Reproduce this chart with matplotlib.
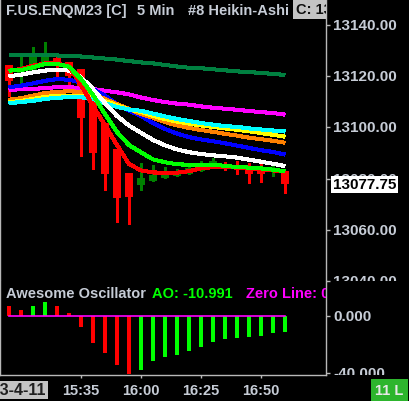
import numpy as np
import matplotlib
matplotlib.use("Agg")
import matplotlib.pyplot as plt

# Heikin-Ashi bars, 5 min, 15:05 .. 17:00
times = ["15:05", "15:10", "15:15", "15:20", "15:25", "15:30", "15:35", "15:40",
         "15:45", "15:50", "15:55", "16:00", "16:05", "16:10", "16:15", "16:20",
         "16:25", "16:30", "16:35", "16:40", "16:45", "16:50", "16:55", "17:00"]
ha_open = [13124.4, 13121.3, 13122.0, 13125.0, 13127.0, 13125.7, 13122.9, 13113.2,
           13101.7, 13091.7, 13082.1, 13077.5, 13078.9, 13080.1, 13081.2, 13081.9,
           13082.9, 13084.1, 13085.5, 13085.2, 13084.4, 13083.1, 13082.5, 13083.1]
ha_high = [13124.4, 13127.5, 13131.4, 13133.4, 13127.5, 13125.7, 13122.9, 13113.2,
           13101.7, 13091.7, 13082.1, 13086.1, 13085.3, 13084.5, 13083.8, 13085.3,
           13086.9, 13088.0, 13086.5, 13087.0, 13086.1, 13085.7, 13085.3, 13083.1]
ha_low = [13112.3, 13116.9, 13122.0, 13125.0, 13118.9, 13115.0, 13088.7, 13083.7,
          13075.5, 13062.9, 13062.3, 13075.7, 13078.9, 13080.1, 13081.2, 13081.9,
          13082.9, 13084.1, 13083.4, 13081.8, 13078.4, 13078.8, 13080.9, 13074.5]
ha_close = [13118.2, 13122.6, 13127.9, 13129.1, 13124.4, 13120.0, 13103.6, 13090.1,
            13081.8, 13072.4, 13072.9, 13080.2, 13081.4, 13082.2, 13082.5, 13084.0,
            13085.3, 13086.9, 13084.8, 13083.6, 13081.8, 13081.9, 13083.6, 13077.75]

# moving averages
ma_darkgreen = [13128.3, 13128.3, 13128.3, 13128.3, 13128.1, 13127.9, 13127.7, 13127.3,
                13126.9, 13126.5, 13125.9, 13125.4, 13125.0, 13124.4, 13123.8, 13123.3,
                13123.1, 13122.7, 13122.3, 13121.9, 13121.6, 13121.3, 13120.9, 13120.5]
ma_magenta = [13114.7, 13114.9, 13115.0, 13115.4, 13115.7, 13115.7, 13115.4, 13115.0,
              13114.3, 13113.7, 13112.9, 13111.7, 13110.7, 13109.9, 13109.3, 13108.9,
              13108.2, 13107.7, 13107.3, 13106.9, 13106.4, 13106.0, 13105.6, 13105.0]
ma_blue = [13115.7, 13116.3, 13117.2, 13118.2, 13118.9, 13118.6, 13117.6, 13115.0,
           13112.4, 13109.1, 13106.5, 13104.5, 13101.7, 13099.4, 13097.6, 13096.2,
           13095.3, 13094.6, 13093.8, 13092.9, 13092.0, 13091.1, 13090.4, 13089.4]
ma_orange = [13110.8, 13111.4, 13112.4, 13113.4, 13113.9, 13114.1, 13113.9, 13113.0,
             13111.1, 13109.1, 13107.2, 13105.2, 13103.8, 13102.1, 13100.8, 13099.8,
             13099.0, 13098.3, 13097.5, 13096.8, 13096.0, 13095.4, 13094.8, 13094.0]
ma_yellow = [13109.9, 13110.3, 13111.1, 13111.9, 13112.3, 13112.4, 13112.3, 13111.5,
             13110.3, 13108.6, 13107.0, 13106.0, 13104.5, 13103.3, 13102.3, 13101.5,
             13100.8, 13100.2, 13099.6, 13099.1, 13098.5, 13097.8, 13097.1, 13096.4]
ma_cyan = [13109.5, 13109.9, 13110.4, 13111.1, 13111.6, 13111.8, 13111.8, 13111.1,
           13109.5, 13108.0, 13107.0, 13106.5, 13105.4, 13104.3, 13103.3, 13102.5,
           13101.7, 13101.1, 13100.5, 13100.2, 13099.6, 13099.2, 13098.8, 13098.4]
ma_white = [13120.0, 13120.6, 13121.5, 13122.2, 13122.5, 13122.2, 13119.6, 13115.0,
            13109.5, 13104.5, 13100.7, 13097.9, 13095.1, 13093.0, 13091.4, 13090.3,
            13089.6, 13089.1, 13088.7, 13088.2, 13087.4, 13086.6, 13085.8, 13084.9]
ma_green = [13122.2, 13122.4, 13123.5, 13124.8, 13124.8, 13123.7, 13118.9, 13112.7,
            13105.2, 13098.2, 13093.1, 13090.3, 13087.5, 13086.4, 13085.6, 13085.4,
            13085.3, 13085.4, 13085.0, 13084.5, 13084.3, 13084.0, 13083.5, 13082.9]
ma_red = [13122.2, 13122.8, 13124.1, 13125.0, 13125.0, 13123.9, 13116.6, 13108.4,
          13100.9, 13093.1, 13085.7, 13083.2, 13082.4, 13082.3, 13082.3, 13082.9,
          13084.0, 13084.5, 13084.5, 13084.3, 13084.0, 13083.6, 13083.2, 13082.6]

# awesome oscillator
ao = [7.5, 4.5, 7.5, 10.0, 7.3, 2.3, -7.8, -18.8, -25.9, -34.0, -41.0, -37.6,
      -31.3, -29.0, -27.0, -24.3, -21.4, -17.9, -15.8, -15.1, -14.4, -13.7, -11.8, -10.991]

price_ticks = [13040, 13060, 13080, 13100, 13120, 13140]
ao_ticks = [0, -40]
time_ticks = ["15:35", "16:00", "16:25", "16:50"]
last_price = 13077.75

plt.rcParams['font.family'] = ['Liberation Sans', 'DejaVu Sans']
plt.rcParams['font.weight'] = 'bold'

GRAY = '#c6ccd6'
AXC = '#b8b8b8'
W, H = 409, 402


def px(x0, y0, x1, y1):
    return [x0 / W, 1 - y1 / H, (x1 - x0) / W, (y1 - y0) / H]


fig = plt.figure(figsize=(W / 100, H / 100), dpi=100, facecolor='black')
ax1 = fig.add_axes(px(0, 0, 326, 282))
ax2 = fig.add_axes(px(0, 282, 326, 376), sharex=ax1)
lab1 = fig.add_axes(px(326, 0, 409, 282))
lab2 = fig.add_axes(px(326, 282, 409, 376))

idx = np.arange(len(times))
o = np.array(ha_open)
c = np.array(ha_close)
up = c >= o
ccol = np.where(up, '#008000', '#ff0000')

# candles
ax1.vlines(idx, ha_low, ha_high, colors=ccol, lw=1, antialiased=False, zorder=2)
ax1.bar(idx, np.abs(c - o), bottom=np.minimum(o, c), width=0.67, color=ccol,
        zorder=2, antialiased=False)

lines = [(ma_darkgreen, '#008040'), (ma_magenta, '#ff00ff'), (ma_blue, '#0000ff'),
         (ma_orange, '#ff8000'), (ma_yellow, '#ffff00'), (ma_cyan, '#00ffff'),
         (ma_white, '#ffffff'), (ma_red, '#ff0000'), (ma_green, '#00ff00')]
for vals, col in lines:
    ax1.plot(idx, vals, color=col, lw=2.2, antialiased=False, zorder=3,
             solid_capstyle='butt')

# AO histogram
ao_arr = np.array(ao)
diff = np.diff(ao_arr, prepend=ao_arr[0] + 1)
acol = np.where(diff > 0, '#00ff00', '#ff0000')
ax2.vlines(idx, 0, ao_arr, colors=acol, lw=1.5, antialiased=False, zorder=2)
ax2.plot(idx, np.zeros(len(idx)), color='#ff00ff', lw=1.2, zorder=3)

ax1.set_xlim(-0.75, 26.42)
ax1.set_ylim(13040, 13150.16)
ax2.set_ylim(-41.4, 24.9)

for ax in (ax1, ax2, lab1, lab2):
    ax.set_facecolor('black')
    for s in ax.spines.values():
        s.set_visible(False)
        s.set_color(AXC)
        s.set_linewidth(1)
for ax in (lab1, lab2):
    ax.patch.set_visible(False)
    ax.set_xticks([])
    ax.set_yticks([])
    ax.set_xlim(0, 83)
lab1.set_ylim(ax1.get_ylim())
lab2.set_ylim(ax2.get_ylim())

ax1.spines['right'].set_visible(True)
ax1.spines['left'].set_visible(True)
ax2.spines['right'].set_visible(True)
ax2.spines['left'].set_visible(True)
ax2.spines['bottom'].set_visible(True)

ax1.yaxis.tick_right()
ax1.set_yticks(price_ticks)
ax1.tick_params(axis='y', length=3, width=1, colors=AXC, labelright=False)
ax1.tick_params(axis='x', bottom=False, labelbottom=False)

ax2.yaxis.tick_right()
ax2.set_yticks(ao_ticks)
ax2.tick_params(axis='y', length=3, width=1, colors=AXC, labelright=False)
ax2.set_xticks([times.index(t) for t in time_ticks])
ax2.set_xticklabels(time_ticks)
ax2.tick_params(axis='x', length=2.2, width=1, colors=AXC, pad=3.6,
                labelsize=10.5, labelcolor=GRAY)

# right scale labels, clipped to each panel
for p in price_ticks:
    lab1.text(7, p, f"{p:.2f}", color=GRAY, fontsize=11, va='center', ha='left',
              clip_on=True)
lab1.text(7, last_price, f"{last_price:.2f}", color='black', fontsize=11,
          va='center', ha='left', clip_on=True, zorder=5,
          bbox=dict(boxstyle='square,pad=0.12', fc='white', ec='none'))
for v in ao_ticks:
    lab2.text(7, v, f"{v:.3f}", color=GRAY, fontsize=11, va='center', ha='left',
              clip_on=True)

# header texts
def t1(x, y, s, ax, h, **kw):
    ax.text(x / 326, 1 - y / h, s, transform=ax.transAxes, va='center', ha='left',
            fontsize=10.5, clip_on=True, zorder=6, **kw)


t1(6, 11, "F.US.ENQM23 [C]", ax1, 282, color=GRAY)
t1(137, 11, "5 Min", ax1, 282, color=GRAY)
t1(188, 11, "#8 Heikin-Ashi", ax1, 282, color=GRAY)
t1(296, 10, f"C: {last_price:.2f}", ax1, 282, color='#101010',
   bbox=dict(boxstyle='square,pad=0.2', fc='#c4c4c4', ec='none'))

t1(6, 12, "Awesome Oscillator", ax2, 94, color=GRAY)
t1(152, 12, f"AO: {ao[-1]:.3f}", ax2, 94, color='#00ff00')
t1(246, 12, "Zero Line: 0", ax2, 94, color='#ff00ff')

# date and status boxes on the time scale (date runs off the left edge)
fig.text(46 / W, 1 - 391 / H, "2023-4-11", ha='right', va='center', fontsize=11.5,
         color='#202020',
         bbox=dict(boxstyle='square,pad=0.12', fc='#c4c4c4', ec='none'))
fig.text(375 / W, 1 - 391 / H, "11 L", ha='left', va='center', fontsize=10.5,
         color='#e8e8e8',
         bbox=dict(boxstyle='square,pad=0.3', fc='#2db52d', ec='none'))

fig.savefig("out.png", dpi=100, facecolor='black')
